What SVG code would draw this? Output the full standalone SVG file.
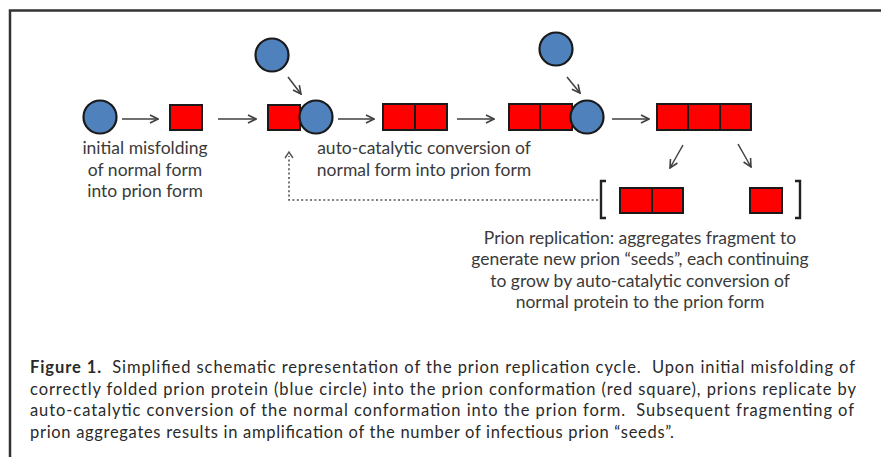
<svg xmlns="http://www.w3.org/2000/svg" width="881" height="457" viewBox="0 0 881 457">
  <defs>
    <marker id="arrow" viewBox="0 0 10 10" refX="9" refY="5" markerWidth="10" markerHeight="10" markerUnits="userSpaceOnUse" orient="auto">
      <path d="M1,1 L9,5 L1,9" fill="none" stroke="#404040" stroke-width="1.6" stroke-linejoin="miter"/>
    </marker>
  </defs>
  <style>
    .prion { fill: #ff0000; stroke: #1a1a1a; stroke-width: 2; }
    .normal { fill: #4f81bd; stroke: #1a1a1a; stroke-width: 2.2; }
    .conn { stroke: #404040; stroke-width: 1.5; fill: none; marker-end: url(#arrow); }
    .dotted { stroke: #555; stroke-width: 1.6; fill: none; stroke-dasharray: 2 2.4; }
    .bracket { stroke: #222; stroke-width: 2.4; fill: none; }
    .label { font-family: Lato, "Liberation Sans", sans-serif; font-size: 17.5px; fill: #3a3a3a; text-anchor: middle; }
    .caption { font-family: Lato, "Liberation Sans", sans-serif; font-size: 16.5px; fill: #2a2a2a; white-space: pre; }
    .frame { stroke: #333; stroke-width: 2.5; fill: none; }
  </style>

  <rect width="881" height="457" fill="#ffffff"/>
  <!-- frame: top and left rules only -->
  <path class="frame" d="M10,457 V10.5 H881"/>

  <!-- connectors -->
  <g id="connectors">
    <line class="conn" x1="122" y1="119" x2="158" y2="119"/>
    <line class="conn" x1="218" y1="119" x2="256" y2="119"/>
    <line class="conn" x1="288" y1="77" x2="301" y2="94"/>
    <line class="conn" x1="338" y1="119" x2="374" y2="119"/>
    <line class="conn" x1="457" y1="119" x2="494" y2="119"/>
    <line class="conn" x1="567" y1="77" x2="580" y2="93"/>
    <line class="conn" x1="612" y1="119" x2="649" y2="119"/>
    <line class="conn" x1="683" y1="145" x2="670" y2="168"/>
    <line class="conn" x1="738" y1="144" x2="751" y2="167"/>
    <!-- recycling of seeds back into the cycle -->
    <path class="dotted" d="M598,200 H289 V156"/>
    <path d="M285,158 L289,152 L293,158" fill="none" stroke="#555" stroke-width="1.4"/>
  </g>

  <!-- normal protein, initial misfolding -->
  <g id="normal-initial">
    <circle class="normal" cx="100" cy="117" r="16.5"/>
  </g>
  <g id="prion-monomer">
    <rect class="prion" x="170" y="105" width="32" height="25"/>
  </g>
  <g id="normal-incoming-1">
    <circle class="normal" cx="272" cy="55" r="16.5"/>
  </g>
  <g id="prion-binding">
    <rect class="prion" x="268" y="105" width="32" height="25"/>
    <circle class="normal" cx="316" cy="117" r="16.5"/>
  </g>
  <g id="prion-dimer">
    <rect class="prion" x="383" y="104" width="32" height="26"/>
    <rect class="prion" x="415" y="104" width="32" height="26"/>
  </g>
  <g id="normal-incoming-2">
    <circle class="normal" cx="556" cy="49" r="16.5"/>
  </g>
  <g id="dimer-binding">
    <rect class="prion" x="509" y="104" width="31" height="26"/>
    <rect class="prion" x="540" y="104" width="32" height="26"/>
    <circle class="normal" cx="587" cy="117" r="16.5"/>
  </g>
  <g id="prion-trimer">
    <rect class="prion" x="657" y="104" width="31" height="26"/>
    <rect class="prion" x="688" y="104" width="32" height="26"/>
    <rect class="prion" x="720" y="104" width="31" height="26"/>
  </g>
  <g id="fragments">
    <path class="bracket" d="M606,181 H601 V218 H606"/>
    <rect class="prion" x="620" y="188" width="32" height="25"/>
    <rect class="prion" x="652" y="188" width="31" height="25"/>
    <rect class="prion" x="750" y="188" width="32" height="25"/>
    <path class="bracket" d="M795,181 H800 V218 H795"/>
  </g>

  <!-- labels -->
  <g id="label-misfolding">
    <text class="label" x="145" y="154">initial misfolding</text>
    <text class="label" x="145" y="176">of normal form</text>
    <text class="label" x="145" y="197">into prion form</text>
  </g>
  <g id="label-conversion">
    <text class="label" x="424" y="154">auto-catalytic conversion of</text>
    <text class="label" x="424" y="176">normal form into prion form</text>
  </g>
  <g id="label-replication">
    <text class="label" x="640" y="244">Prion replication: aggregates fragment to</text>
    <text class="label" x="640" y="265">generate new prion “seeds”, each continuing</text>
    <text class="label" x="640" y="287">to grow by auto-catalytic conversion of</text>
    <text class="label" x="640" y="308">normal protein to the prion form</text>
  </g>

  <!-- figure caption -->
  <g id="caption">
    <text class="caption" x="30" y="373" textLength="825" lengthAdjust="spacing"><tspan font-weight="bold">Figure 1.</tspan>  Simplified schematic representation of the prion replication cycle.  Upon initial misfolding of</text>
    <text class="caption" x="30" y="394.5" textLength="826" lengthAdjust="spacing">correctly folded prion protein (blue circle) into the prion conformation (red square), prions replicate by</text>
    <text class="caption" x="30" y="416" textLength="824" lengthAdjust="spacing">auto-catalytic conversion of the normal conformation into the prion form.  Subsequent fragmenting of</text>
    <text class="caption" x="30" y="437.5" textLength="644" lengthAdjust="spacing">prion aggregates results in amplification of the number of infectious prion “seeds”.</text>
  </g>
</svg>
